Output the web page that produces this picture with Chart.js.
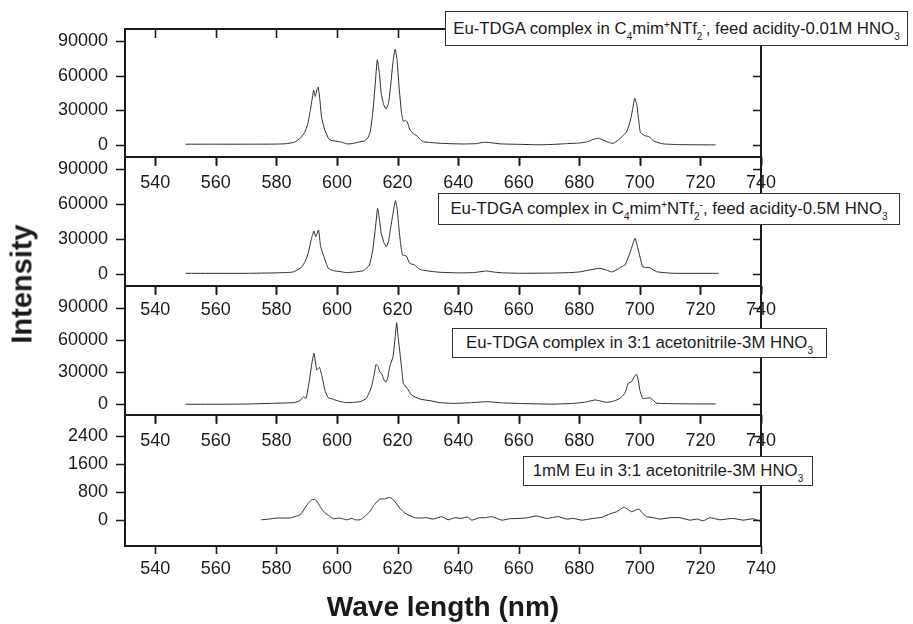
<!DOCTYPE html>
<html>
<head>
<meta charset="utf-8">
<script src="https://cdn.jsdelivr.net/npm/chart.js@4.4.1/dist/chart.umd.min.js"></script>
<style>
  body { margin: 0; background: #fff; }
  #fig { position: relative; width: 913px; height: 624px; overflow: hidden; background: #fff;
         font-family: "Liberation Sans", Arial, sans-serif; color: #1a1a1a; }
  #fig canvas { position: absolute; left: 0; }
  .key { position: absolute; background: #fff; border: 1px solid #333; font-size: 16.8px; white-space: nowrap;
         box-sizing: border-box; text-align: center; z-index: 5; }
  .key .lo, .key .hi { position: relative; font-size: 10px; }
  .key .lo { top: 6px; }
  .key .hi { top: -6px; }
  .title { position: absolute; font-weight: bold; white-space: nowrap; z-index: 5; }
</style>
</head>
<body>
<div id="fig">
  <canvas id="c1"></canvas>
  <canvas id="c2"></canvas>
  <canvas id="c3"></canvas>
  <canvas id="c4"></canvas>
  <div class="key" style="left:445px;top:11px;width:463px;height:35px;line-height:33px;">Eu-TDGA complex in C<span class="lo">4</span>mim<span class="hi">+</span>NTf<span class="lo">2</span><span class="hi">-</span>, feed acidity-0.01M HNO<span class="lo">3</span></div>
  <div class="key" style="left:438px;top:193px;width:462px;height:32px;line-height:30px;">Eu-TDGA complex in C<span class="lo">4</span>mim<span class="hi">+</span>NTf<span class="lo">2</span><span class="hi">-</span>, feed acidity-0.5M HNO<span class="lo">3</span></div>
  <div class="key" style="left:452px;top:328px;width:375px;height:30px;line-height:28px;">Eu-TDGA complex in 3:1 acetonitrile-3M HNO<span class="lo">3</span></div>
  <div class="key" style="left:523px;top:456px;width:290px;height:30px;line-height:28px;">1mM Eu in 3:1 acetonitrile-3M HNO<span class="lo">3</span></div>
  <div class="title" style="font-size:29px;left:22px;top:284px;transform:translate(-50%,-50%) rotate(-90deg);">Intensity</div>
  <div class="title" style="font-size:28px;left:443px;top:607px;transform:translate(-50%,-50%);">Wave length (nm)</div>
</div>
<script>
// emission spectra, wavelength (nm) / intensity pairs per sample
const wave1 = [550,560,570,580,583,586,588,589.3,590.3,591.2,591.8,592.3,592.8,593.4,593.8,594.4,594.9,596,597.3,598.2,600,601.5,603.2,605,607.5,609.2,610.3,611,611.8,612.6,613.3,614,614.6,615.4,616.2,617,617.7,618.5,619.2,619.8,620.5,621.3,621.9,622.6,623.2,624,624.6,625.4,626.3,627.3,628.5,631,634,638,642,646,648.3,650.5,653.8,660,667,672,675.8,680,682.4,684.5,686.3,688.5,690,691.2,692.9,694.3,695.6,696.5,697.1,697.6,698.3,699,699.6,700.2,701.7,703.1,704,705,707.7,712,718,725];
const int1 = [1000,1000,1000,1100,1400,2800,6500,11000,18000,30000,40000,47500,42000,48000,50000,38000,24000,13000,5500,4200,3500,2800,1300,1500,3000,4000,7000,12000,28000,52000,73500,62000,44800,35000,31300,36000,51000,72000,82600,74000,50000,28000,20500,21500,20000,14000,11800,9500,8500,5500,3200,2400,1800,1400,1200,1500,2600,2400,1300,900,500,900,1500,2000,2900,5000,6100,3900,2300,1700,4600,8000,11500,18000,24000,31000,40500,35000,22000,11000,8300,7500,5000,3200,1300,700,500,400];

const wave2 = [550,560,570,580,583,585.6,588.3,589.5,590.5,591.6,592.4,593,593.9,594.6,595.7,597.1,598.8,601,603.2,606,608.7,610.7,611.8,612.7,613.4,614,614.6,615.5,616.3,617,617.6,618.5,619.3,619.9,620.4,621,621.6,622.3,622.9,624,625.7,626.8,627.9,631,634,640,645,649.4,652,655,660.4,670,676.9,680,683.5,686.8,689,690.7,692.5,694,695.1,696.7,697.7,698.4,699.5,700.9,702,703.3,705.5,711,718,726];
const int2 = [800,800,800,1200,1500,2000,6000,11000,18000,30700,36900,32000,37800,23500,15000,5100,3100,2300,1400,2000,3100,7900,20700,40000,56300,47000,35000,27000,23500,28000,37800,52000,62800,55000,40600,26000,16500,16000,15600,9400,7900,5000,3700,2500,1700,1200,1400,2800,1800,1200,850,1000,1400,2000,3700,5100,3500,2000,4000,6500,7900,17900,26000,30700,20700,6500,5800,5600,2200,850,800,800];

const wave3 = [550,560,570,579,585.6,587.8,588.9,589.8,590.9,591.7,592.4,593.3,594.2,594.9,596,597.1,598.8,601,603.2,605.5,607.6,609.7,611.4,612.3,612.9,613.6,614.1,614.8,615.4,616.1,616.7,617.4,618.5,619.2,619.7,620.2,620.8,621.4,621.9,623.2,624.6,627.4,630.7,634,638.4,644,649.4,655,662,671.4,678,682,685.2,687,689,691.5,693.4,695,696.2,697.3,698.2,698.9,699.5,700,700.9,702,703.3,704.5,705.5,712,718,725];
const int3 = [0,0,200,900,1500,3300,7000,5500,22500,38000,47400,31900,34300,27800,13200,6100,4600,2500,1500,1800,2400,5500,16300,28000,37000,35000,30300,28000,23200,20500,24000,34900,44200,62000,75900,62000,47400,32000,19500,14800,8600,4800,3300,1500,800,1400,2400,1200,600,100,800,2000,4000,3000,1800,3000,5500,10000,19500,21000,26000,27800,22000,13200,5500,5500,6000,3500,1000,500,300,300];

const wave4 = [575,577.5,580,583.4,585,586.7,587.8,589,590,591,591.6,592.5,593.3,594.4,595.2,596,597.5,598.8,601,602.2,603.2,604.9,606,607.6,608.7,609.7,611,611.9,613,614.1,615.7,617.4,618.3,619.1,620.8,622,623,625.7,627.5,629.6,631.8,634.5,636.7,638.9,641,643,644.5,647,649,651.1,654.4,657,660.4,663,665.9,669.2,673.1,675.8,678,680.8,684.6,687.4,690.1,692.3,694.7,696,697.3,698.9,699.7,701,702.2,704.5,706.6,710,713.2,716.5,719,720.9,723.1,726.4,728.5,730.8,734.1,737.4,739.6];
const int4 = [0,20,50,50,60,110,140,280,420,520,570,580,540,380,280,200,110,30,50,20,0,40,0,0,60,140,250,380,500,590,600,640,600,520,330,220,160,60,50,60,20,90,0,60,40,80,-10,60,60,90,-10,30,40,60,110,40,90,20,40,-10,40,70,170,230,360,300,230,290,310,180,90,60,20,60,60,-10,20,-30,60,0,20,40,-10,30,-40];

// shared wavelength axis: tick marks every 10 nm, numbers every 20 nm
const waveRange = [530, 740];
const waveTicks = [530,540,550,560,570,580,590,600,610,620,630,640,650,660,670,680,690,700,710,720,730,740];
const waveLabels = [540,560,580,600,620,640,660,680,700,720,740];

// intensity axes: range, tick marks, numbered ticks
const yRange1 = [-10000, 100000];
const yRange2 = [-10000, 100000];
const yRange3 = [-10000, 110000];
const yRange4 = [-750, 3000];
const yTicksBig = [0,15000,30000,45000,60000,75000,90000];
const yTicksBig3 = [0,15000,30000,45000,60000,75000,90000,105000];
const yLabelsBig = [0,30000,60000,90000];
const yTicksSmall = [-400,0,400,800,1200,1600,2000,2400,2800];
const yLabelsSmall = [0,800,1600,2400];

const INK = '#1a1a1a';
const FONT = '"Liberation Sans", Arial, sans-serif';
// TOP_PAD leaves room for the y-axis label padding Chart.js reserves above the plot
const FIG_W = 913, PLOT_LEFT = 125, PLOT_RIGHT = 761, TOP_PAD = 30, X_AXIS_H = 50;

const panels = [
  { id: 'c1', top: 29,  bottom: 157, wave: wave1, vals: int1, range: yRange1, ticks: yTicksBig,   labels: yLabelsBig,   xPad: 15 },
  { id: 'c2', top: 157, bottom: 286, wave: wave2, vals: int2, range: yRange2, ticks: yTicksBig,   labels: yLabelsBig,   xPad: 13.5 },
  { id: 'c3', top: 286, bottom: 415, wave: wave3, vals: int3, range: yRange3, ticks: yTicksBig3,  labels: yLabelsBig,   xPad: 15 },
  { id: 'c4', top: 415, bottom: 546, wave: wave4, vals: int4, range: yRange4, ticks: yTicksSmall, labels: yLabelsSmall, xPad: 12.5 }
];

// box outline plus tick marks: outward on left/bottom, inward on top/right
const frame = {
  id: 'frame',
  afterDraw(chart) {
    const { ctx, chartArea: a, scales: { x, y } } = chart;
    const yLabels = chart.options.yLabelSet || [];
    ctx.save();
    ctx.strokeStyle = INK;
    ctx.lineWidth = 1.6;
    ctx.beginPath();
    x.ticks.forEach(t => {
      const px = Math.round(x.getPixelForValue(t.value)) + 0.5;
      const major = waveLabels.includes(t.value);
      ctx.moveTo(px, a.bottom); ctx.lineTo(px, a.bottom + (major ? 8 : 5));
      ctx.moveTo(px, a.top); ctx.lineTo(px, a.top + (major ? 9 : 6));
    });
    y.ticks.forEach(t => {
      if (t.value === y.min || t.value === y.max) return;   // range ends carry no mark
      const py = Math.round(y.getPixelForValue(t.value)) + 0.5;
      const major = yLabels.includes(t.value);
      ctx.moveTo(a.left, py); ctx.lineTo(a.left - (major ? 9 : 5), py);
      ctx.moveTo(a.right, py); ctx.lineTo(a.right - 8, py);
    });
    ctx.stroke();
    ctx.lineWidth = 2;
    ctx.strokeRect(a.left, a.top, a.right - a.left, a.bottom - a.top);
    ctx.restore();
  }
};

panels.forEach(p => {
  const canvas = document.getElementById(p.id);
  canvas.width = FIG_W;
  canvas.height = TOP_PAD + (p.bottom - p.top) + X_AXIS_H;
  canvas.style.top = (p.top - TOP_PAD) + 'px';
  const [yMin, yMax] = p.range;

  new Chart(canvas, {
    type: 'line',
    data: {
      datasets: [{
        data: p.wave.map((w, i) => ({ x: w, y: p.vals[i] })),
        borderColor: '#2b2b2b',
        borderWidth: 1,
        pointRadius: 0,
        tension: 0.15,
        fill: false
      }]
    },
    options: {
      responsive: false,
      animation: false,
      events: [],
      yLabelSet: p.labels,
      layout: { padding: { top: TOP_PAD, left: 0, right: FIG_W - PLOT_RIGHT, bottom: 0 } },
      plugins: { legend: { display: false }, tooltip: { enabled: false } },
      scales: {
        x: {
          type: 'linear', position: 'bottom', min: waveRange[0], max: waveRange[1],
          grid: { display: false, drawTicks: false },
          border: { display: false },
          afterBuildTicks: s => { s.ticks = waveTicks.map(v => ({ value: v })); },
          afterFit: s => { s.height = X_AXIS_H; },
          ticks: {
            autoSkip: false, maxRotation: 0, padding: p.xPad,
            color: INK, font: { family: FONT, size: 18 },
            callback: v => (waveLabels.includes(v) ? String(v) : null)
          }
        },
        y: {
          type: 'linear', position: 'left', min: yMin, max: yMax,
          grid: { display: false, drawTicks: false },
          border: { display: false },
          afterBuildTicks: s => { s.ticks = [yMin, ...p.ticks, yMax].map(v => ({ value: v })); },
          afterFit: s => { s.width = PLOT_LEFT; },
          ticks: {
            autoSkip: false, padding: 17,
            color: INK, font: { family: FONT, size: 18 },
            callback: v => (p.labels.includes(v) ? String(v) : null)
          }
        }
      }
    },
    plugins: [frame]
  });
});
</script>
</body>
</html>
